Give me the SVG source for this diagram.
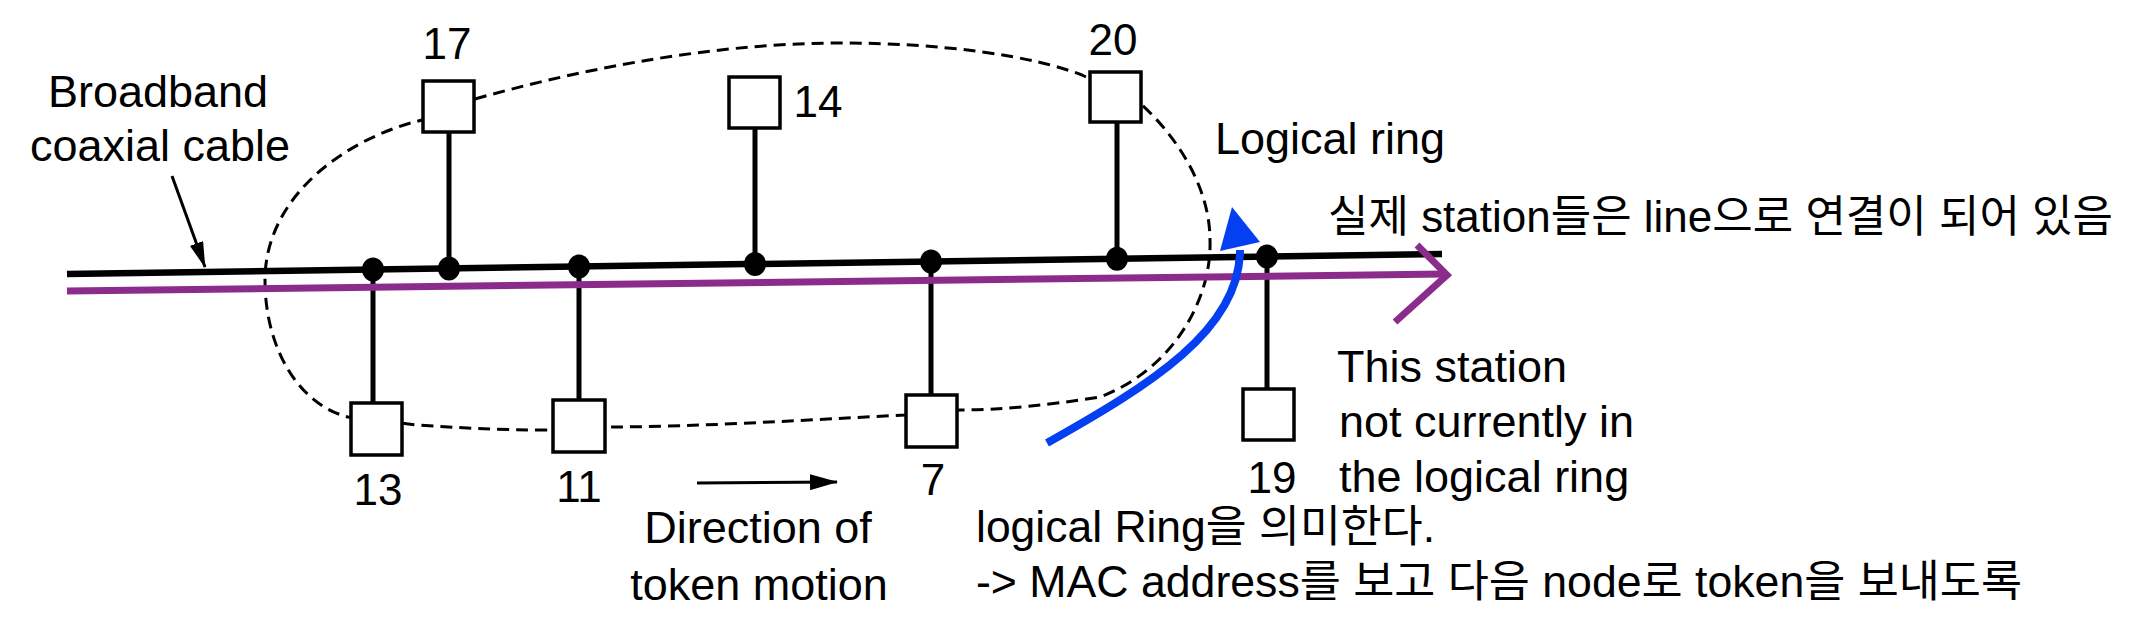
<svg xmlns="http://www.w3.org/2000/svg" width="2134" height="618" viewBox="0 0 2134 618">
  <style>
    .txt { font-family: "Liberation Sans", Arial, sans-serif; font-size: 45px; fill: #000; }
    .num { font-family: "Liberation Sans", Arial, sans-serif; font-size: 44px; fill: #000; text-anchor: middle; }
    .kr { font-family: "Liberation Sans", "Noto Sans CJK KR", sans-serif; font-size: 44px; fill: #000; }
    .box { fill: #fff; stroke: #000; stroke-width: 3.5; }
    .stem { stroke: #000; stroke-width: 5; fill: none; }
    .dot { fill: #000; }
    .ring { fill: none; stroke: #000; stroke-width: 3; stroke-dasharray: 12 7; }
    .bus { stroke: #000; stroke-width: 6.5; fill: none; }
    .purple { stroke: #8B2C8C; stroke-width: 7; fill: none; }
    .blue { stroke: #0440F2; stroke-width: 8; fill: none; }
    .thin { stroke: #000; stroke-width: 3; fill: none; }
  </style>
  <defs>
    <marker id="head" viewBox="0 0 28 16" refX="27" refY="8" markerWidth="28" markerHeight="16" markerUnits="userSpaceOnUse" orient="auto">
      <path d="M0,0 L28,8 L0,16 z" fill="#000"/>
    </marker>
    <marker id="headNarrow" viewBox="0 0 26 14" refX="25" refY="7" markerWidth="26" markerHeight="14" markerUnits="userSpaceOnUse" orient="auto">
      <path d="M0,0 L26,7 L0,14 z" fill="#000"/>
    </marker>
  </defs>

  <g id="connectors">
    <!-- logical ring (dashed) -->
    <path class="ring" d="M475,99 C560,75 700,43 840,43 C940,43 1030,55 1082,75 L1142,105 C1180,140 1210,190 1210,240 C1212,300 1172,370 1100,397 C1050,405 1000,410 960,410 L906,415 C800,420 700,427 606,427 L548,430 C500,430 460,428 417,425 L348,417 C300,405 265,350 265,280 C265,200 340,140 422,120 Z"/>
    <!-- broadband coaxial cable (bus) -->
    <line class="bus" x1="67" y1="274" x2="1442" y2="254"/>
    <!-- stems -->
    <line class="stem" x1="449" y1="132" x2="449" y2="268"/>
    <line class="stem" x1="755" y1="128" x2="755" y2="264"/>
    <line class="stem" x1="1117" y1="122" x2="1117" y2="259"/>
    <line class="stem" x1="373" y1="270" x2="373" y2="403"/>
    <line class="stem" x1="579" y1="267" x2="579" y2="400"/>
    <line class="stem" x1="931" y1="261" x2="931" y2="395"/>
    <line class="stem" x1="1267" y1="257" x2="1267" y2="389"/>
    <!-- cable label arrow -->
    <line class="thin" x1="172" y1="176" x2="205" y2="267" marker-end="url(#headNarrow)"/>
    <!-- direction of token motion arrow -->
    <line class="thin" x1="697" y1="483" x2="837" y2="482" marker-end="url(#head)"/>
  </g>

  <g id="node-17">
    <rect class="box" x="423" y="81" width="51" height="51"/>
    <ellipse class="dot" cx="449" cy="268.4" rx="11" ry="12"/>
    <text class="num" x="447" y="59">17</text>
  </g>
  <g id="node-14">
    <rect class="box" x="729" y="77" width="51" height="51"/>
    <ellipse class="dot" cx="755" cy="264" rx="11" ry="12"/>
    <text class="num" x="818" y="117">14</text>
  </g>
  <g id="node-20">
    <rect class="box" x="1090" y="72" width="51" height="50"/>
    <ellipse class="dot" cx="1117" cy="258.7" rx="11" ry="12"/>
    <text class="num" x="1113" y="55">20</text>
  </g>
  <g id="node-13">
    <rect class="box" x="351" y="403" width="51" height="52"/>
    <ellipse class="dot" cx="373" cy="269.5" rx="11" ry="12"/>
    <text class="num" x="378" y="505">13</text>
  </g>
  <g id="node-11">
    <rect class="box" x="553" y="400" width="52" height="52"/>
    <ellipse class="dot" cx="579" cy="266.6" rx="11" ry="12"/>
    <text class="num" x="579" y="502">11</text>
  </g>
  <g id="node-7">
    <rect class="box" x="906" y="395" width="51" height="52"/>
    <ellipse class="dot" cx="931" cy="261.4" rx="11" ry="12"/>
    <text class="num" x="933" y="495">7</text>
  </g>
  <g id="node-19">
    <rect class="box" x="1243" y="389" width="51" height="51"/>
    <ellipse class="dot" cx="1267" cy="256.5" rx="11" ry="12"/>
    <text class="num" x="1272" y="493">19</text>
  </g>

  <g id="annotations">
    <!-- purple physical line arrow -->
    <line class="purple" x1="67" y1="291" x2="1445" y2="274"/>
    <polyline class="purple" points="1417,245 1447,275 1395,322"/>
    <!-- blue logical ring arrow -->
    <path class="blue" d="M1047,443 C1150,385 1240,330 1240,250"/>
    <polygon points="1232,207 1220,251 1260,242" fill="#0440F2"/>
  </g>

  <g id="labels">
    <text class="txt" x="158" y="107" text-anchor="middle">Broadband</text>
    <text class="txt" x="160" y="161" text-anchor="middle">coaxial cable</text>
    <text class="txt" x="1215" y="154">Logical ring</text>
    <text class="kr" x="1328" y="232" textLength="785" lengthAdjust="spacingAndGlyphs">실제 station들은 line으로 연결이 되어 있음</text>
    <text class="txt" x="1337" y="382">This station</text>
    <text class="txt" x="1339" y="437">not currently in</text>
    <text class="txt" x="1339" y="492">the logical ring</text>
    <text class="txt" x="758" y="543" text-anchor="middle">Direction of</text>
    <text class="txt" x="759" y="600" text-anchor="middle">token motion</text>
    <text class="kr" x="976" y="542" textLength="459" lengthAdjust="spacingAndGlyphs">logical Ring을 의미한다.</text>
    <text class="kr" x="976" y="597" textLength="1046" lengthAdjust="spacingAndGlyphs">-&gt; MAC address를 보고 다음 node로 token을 보내도록</text>
  </g>
</svg>
